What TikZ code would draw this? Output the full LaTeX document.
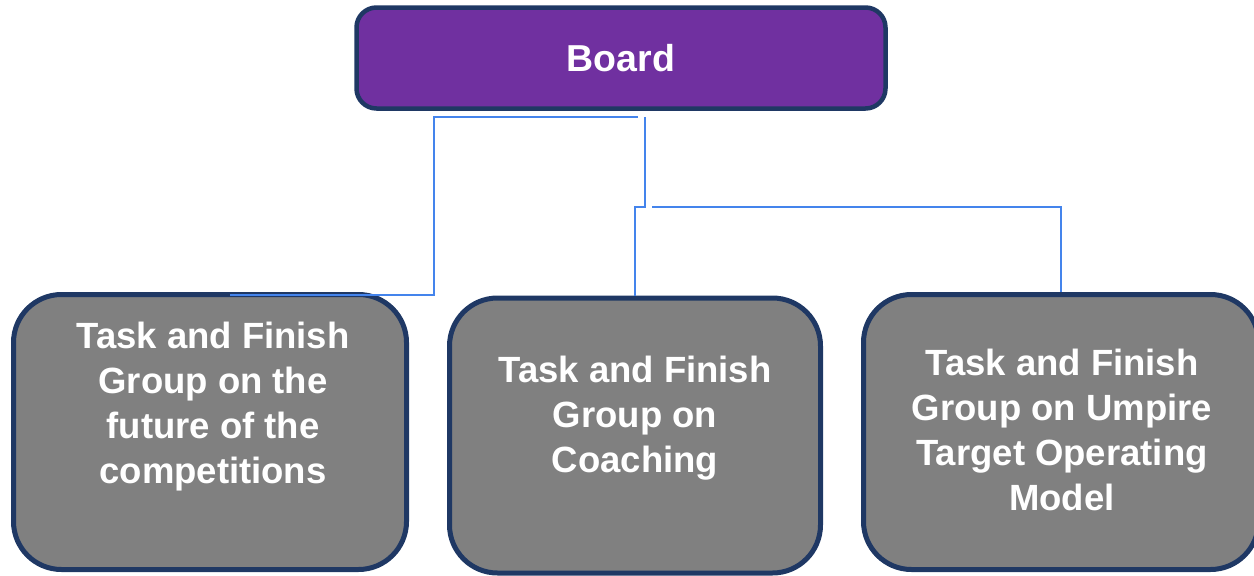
\documentclass[tikz,border=0pt]{standalone}
\usepackage{fontspec}
\setmainfont{Liberation Sans}
\usepackage{tikz}
\definecolor{boardpurple}{RGB}{112,48,160}
\definecolor{groupgray}{RGB}{128,128,128}
\definecolor{boxborder}{RGB}{31,56,100}
\definecolor{linkblue}{RGB}{68,132,236}
\begin{document}
\begin{tikzpicture}[x=1pt,y=-1pt,
	boardbox/.style={shape=rectangle,draw=boxborder,line width=4.5pt,fill=boardpurple,rounded corners=20pt,minimum width=529pt,minimum height=101pt,inner sep=0pt,text=white,font=\bfseries\fontsize{37.5}{45}\selectfont},
	groupbox/.style={shape=rectangle,draw=boxborder,line width=5pt,fill=groupgray,rounded corners=48pt,minimum height=275pt,inner sep=0pt},
	grouptext/.style={anchor=north,inner sep=0pt,align=center,text=white,font=\bfseries\fontsize{36.5}{45}\selectfont},
	link/.style={draw=linkblue,line width=2pt}]
	\useasboundingbox (0,0) rectangle (1254,576);

	\node[boardbox] (board) at (621, 58)     {Board};
	\node[groupbox,minimum width=393pt] (g1) at (210, 432)     {};
	\node[groupbox,minimum width=371pt] (g2) at (635, 435.5)   {};
	\node[groupbox,minimum width=395pt] (g3) at (1061, 432)    {};

	\node[grouptext] (t1) at ([xshift=3pt,yshift=-30pt]g1.north)  {Task and Finish\\Group on the\\future of the\\competitions};
	\node[grouptext] (t2) at ([yshift=-60pt]g2.north)             {Task and Finish\\Group on\\Coaching};
	\node[grouptext] (t3) at ([xshift=1pt,yshift=-57pt]g3.north)  {Task and Finish\\Group on Umpire\\Target Operating\\Model};

	\path[link] ([xshift=17pt,yshift=-6pt]board.south) -- ++(-204,0) |- ([xshift=20pt,yshift=-3pt]g1.north);
	\path[link] ([xshift=24pt,yshift=-6pt]board.south) -- ++(0,90) -| (g2.north);
	\path[link] ([xshift=31pt,yshift=-96pt]board.south) -| (g3.north);

\end{tikzpicture}
\end{document}
